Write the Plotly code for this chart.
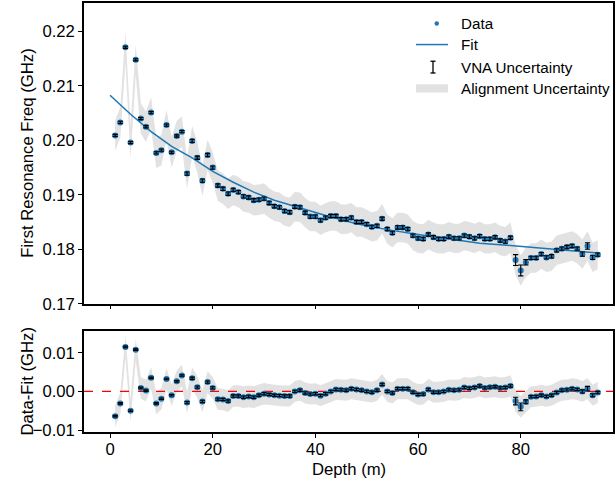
import plotly.graph_objects as go
from plotly.subplots import make_subplots

# ---------------- data ----------------
depth = list(range(1, 96))

freq = [0.2009, 0.2033, 0.2171, 0.1996, 0.2148, 0.2040, 0.2025, 0.2051, 0.1977, 0.1982,
        0.2028, 0.1978, 0.2008, 0.2016, 0.1939, 0.1999, 0.1968, 0.1926, 0.1973, 0.1950,
        0.1917, 0.1911, 0.1902, 0.1909, 0.1905, 0.1897, 0.1895, 0.1890, 0.1891, 0.1893,
        0.1885, 0.1879, 0.1877, 0.1870, 0.1868, 0.1878, 0.1877, 0.1867, 0.1860, 0.1860,
        0.1853, 0.1858, 0.1861, 0.1861, 0.1855, 0.1855, 0.1858, 0.1850, 0.1850, 0.1846,
        0.1841, 0.1843, 0.1856, 0.1837, 0.1830, 0.1840, 0.1840, 0.1837, 0.1825, 0.1820,
        0.1819, 0.1827, 0.1822, 0.1819, 0.1819, 0.1823, 0.1820, 0.1820, 0.1825, 0.1823,
        0.1820, 0.1824, 0.1819, 0.1819, 0.1822, 0.1816, 0.1814, 0.1821, 0.1780, 0.1761,
        0.1776, 0.1784, 0.1784, 0.1791, 0.1785, 0.1787, 0.1798, 0.1801, 0.1804, 0.1806,
        0.1801, 0.1791, 0.1806, 0.1785, 0.1790]

residual = [-0.0064, -0.0031, 0.0115, -0.0050, 0.0108, 0.0009, 0.0002, 0.0035, -0.0031, -0.0019,
            0.0032, -0.0010, 0.0026, 0.0041, -0.0029, 0.0034, 0.0011, -0.0026, 0.0024, 0.0009,
            -0.0020, -0.0021, -0.0025, -0.0012, -0.0012, -0.0015, -0.0013, -0.0015, -0.0010, -0.0006,
            -0.0008, -0.0010, -0.0011, -0.0012, -0.0012, 0.0000, 0.0003, -0.0004, -0.0007, -0.0006,
            -0.0011, -0.0006, 0.0000, 0.0005, 0.0004, 0.0003, 0.0007, 0.0005, 0.0003, 0.0000,
            -0.0002, 0.0003, 0.0018, 0.0000, -0.0004, 0.0007, 0.0007, 0.0007, -0.0002, -0.0008,
            -0.0007, 0.0005, -0.0002, -0.0002, 0.0000, 0.0004, 0.0003, 0.0004, 0.0010, 0.0008,
            0.0010, 0.0014, 0.0009, 0.0011, 0.0012, 0.0009, 0.0010, 0.0014, -0.0025, -0.0040,
            -0.0027, -0.0014, -0.0013, -0.0010, -0.0013, -0.0010, -0.0003, 0.0003, 0.0004, 0.0007,
            0.0005, 0.0000, 0.0007, -0.0010, -0.0003]

vna_unc = [0.0002, 0.0002, 0.0002, 0.0002, 0.0002, 0.0002, 0.0002, 0.0002, 0.0002, 0.0002,
           0.0002, 0.0002, 0.0002, 0.0002, 0.0003, 0.0003, 0.0003, 0.0003, 0.0003, 0.0003,
           0.0003, 0.0003, 0.0003, 0.0003, 0.0003, 0.0003, 0.0003, 0.0003, 0.0003, 0.0003,
           0.0003, 0.0003, 0.0003, 0.0003, 0.0003, 0.0003, 0.0003, 0.0003, 0.0003, 0.0003,
           0.0003, 0.0003, 0.0003, 0.0003, 0.0003, 0.0003, 0.0003, 0.0003, 0.0003, 0.0003,
           0.0003, 0.0003, 0.0003, 0.0003, 0.0003, 0.0003, 0.0003, 0.0003, 0.0003, 0.0003,
           0.0003, 0.0003, 0.0003, 0.0003, 0.0003, 0.0003, 0.0003, 0.0003, 0.0003, 0.0003,
           0.0003, 0.0003, 0.0003, 0.0003, 0.0003, 0.0003, 0.0003, 0.0003, 0.0010, 0.0010,
           0.0005, 0.0003, 0.0003, 0.0003, 0.0003, 0.0003, 0.0003, 0.0003, 0.0003, 0.0003,
           0.0003, 0.0004, 0.0006, 0.0004, 0.0003]

align_unc = [0.0028, 0.0028, 0.0028, 0.0029, 0.0028, 0.0028, 0.0028, 0.0028, 0.0028, 0.0028,
             0.0028, 0.0028, 0.0028, 0.0028, 0.0028, 0.0028, 0.0028, 0.0028, 0.0028, 0.0028,
             0.0028, 0.0028, 0.0028, 0.0028, 0.0028, 0.0028, 0.0028, 0.0028, 0.0028, 0.0028,
             0.0027, 0.0027, 0.0027, 0.0027, 0.0027, 0.0027, 0.0027, 0.0027, 0.0027, 0.0027,
             0.0027, 0.0027, 0.0027, 0.0027, 0.0027, 0.0027, 0.0027, 0.0027, 0.0027, 0.0027,
             0.0027, 0.0027, 0.0027, 0.0027, 0.0027, 0.0027, 0.0027, 0.0027, 0.0027, 0.0027,
             0.0027, 0.0027, 0.0027, 0.0027, 0.0027, 0.0027, 0.0027, 0.0027, 0.0027, 0.0027,
             0.0027, 0.0027, 0.0027, 0.0027, 0.0027, 0.0027, 0.0027, 0.0028, 0.0028, 0.0028,
             0.0027, 0.0027, 0.0027, 0.0027, 0.0027, 0.0027, 0.0027, 0.0027, 0.0027, 0.0027,
             0.0027, 0.0027, 0.0027, 0.0027, 0.0027]

fit_depth = [0, 4, 8, 12, 16, 20, 24, 28, 32, 36, 42, 48, 54, 60, 66, 72, 78, 87, 95]
fit_freq = [0.2083, 0.2048, 0.2016, 0.1989, 0.1968, 0.1943, 0.1923, 0.1905, 0.1890, 0.1879,
            0.1862, 0.1847, 0.1836, 0.1827, 0.1819, 0.1811, 0.1807, 0.1799, 0.1793]

x_ticks = [0, 20, 40, 60, 80]
top_ticks = [0.17, 0.18, 0.19, 0.20, 0.21, 0.22]
bot_ticks = [-0.01, 0.00, 0.01]

# ---------------- styling ----------------
W, H = 616, 489
FONT = "Arial, 'Liberation Sans', sans-serif"
BLUE = "#1f77b4"
BAND = "rgb(226,226,226)"
FS = 16.7
LFS = 15.2

def px(x):
    return x / W

def py(y):
    return 1 - y / H

fig = make_subplots(rows=2, cols=1, shared_xaxes=False)

up = [f + a for f, a in zip(freq, align_unc)]
lo = [f - a for f, a in zip(freq, align_unc)]
rup = [r + a for r, a in zip(residual, align_unc)]
rlo = [r - a for r, a in zip(residual, align_unc)]

ERR = dict(type="data", array=vna_unc, color="black", thickness=1.1, width=2.6)

# top panel
fig.add_trace(go.Scatter(x=depth, y=lo, mode="lines", line=dict(width=0, color=BAND),
                         hoverinfo="skip", showlegend=False), row=1, col=1)
fig.add_trace(go.Scatter(x=depth, y=up, mode="lines", line=dict(width=0, color=BAND),
                         fill="tonexty", fillcolor=BAND, name="Alignment Uncertainty",
                         showlegend=False), row=1, col=1)
fig.add_trace(go.Scatter(x=fit_depth, y=fit_freq, mode="lines", line=dict(color=BLUE, width=1.5),
                         name="Fit", showlegend=False), row=1, col=1)
fig.add_trace(go.Scatter(x=depth, y=freq, mode="markers", marker=dict(color=BLUE, size=6),
                         name="Data", showlegend=False), row=1, col=1)
fig.add_trace(go.Scatter(x=depth, y=freq, mode="markers", marker=dict(size=1, opacity=0),
                         error_y=ERR, name="VNA Uncertainty", showlegend=False), row=1, col=1)

# bottom panel
fig.add_trace(go.Scatter(x=depth, y=rlo, mode="lines", line=dict(width=0, color=BAND),
                         hoverinfo="skip", showlegend=False), row=2, col=1)
fig.add_trace(go.Scatter(x=depth, y=rup, mode="lines", line=dict(width=0, color=BAND),
                         fill="tonexty", fillcolor=BAND, showlegend=False), row=2, col=1)
fig.add_trace(go.Scatter(x=[-5.07, 97.97], y=[0, 0], mode="lines",
                         line=dict(color="red", width=1.3, dash="dash"), showlegend=False), row=2, col=1)
fig.add_trace(go.Scatter(x=depth, y=residual, mode="markers", marker=dict(color=BLUE, size=6),
                         showlegend=False), row=2, col=1)
fig.add_trace(go.Scatter(x=depth, y=residual, mode="markers", marker=dict(size=1, opacity=0),
                         error_y=ERR, showlegend=False), row=2, col=1)

axis_common = dict(showline=True, linecolor="black", linewidth=1.6, mirror=True,
                   ticks="outside", ticklen=4, tickwidth=1.2, tickcolor="black",
                   showgrid=False, zeroline=False,
                   tickfont=dict(family=FONT, size=FS, color="black"))

fig.update_layout(
    width=W, height=H, margin=dict(l=0, r=0, t=0, b=0),
    plot_bgcolor="white", paper_bgcolor="white", showlegend=False,
    xaxis=dict(domain=[px(84), px(613)], range=[-5.07, 97.97], tickvals=x_ticks,
               showticklabels=False, anchor="y", **axis_common),
    yaxis=dict(domain=[py(310), py(2.7)], range=[0.17, 0.2253], tickvals=top_ticks,
               ticktext=["0.17", "0.18", "0.19", "0.20", "0.21", "0.22"], anchor="x", **axis_common),
    xaxis2=dict(domain=[px(84), px(613)], range=[-5.07, 97.97], tickvals=x_ticks,
                ticktext=[str(t) for t in x_ticks], anchor="y2", ticklabelstandoff=-3,
                **axis_common),
    yaxis2=dict(domain=[py(441), py(338)], range=[-0.0105, 0.0156], tickvals=bot_ticks,
                ticktext=["\u22120.01", "0.00", "0.01"], anchor="x2", **axis_common),
)

ann_font = dict(family=FONT, size=FS, color="black")
fig.add_annotation(text="First Resonance Freq (GHz)", xref="paper", yref="paper",
                   x=px(28), y=py(156), textangle=-90, showarrow=False, font=ann_font,
                   xanchor="center", yanchor="middle")
fig.add_annotation(text="Data-Fit (GHz)", xref="paper", yref="paper",
                   x=px(28), y=py(389.5), textangle=-90, showarrow=False, font=ann_font,
                   xanchor="center", yanchor="middle")
fig.add_annotation(text="Depth (m)", xref="paper", yref="paper",
                   x=px(348.5), y=py(479.5), showarrow=False, font=ann_font,
                   xanchor="center", yanchor="middle", borderpad=0)

# manual legend
leg_font = dict(family=FONT, size=LFS, color="black")
labels = ["Data", "Fit", "VNA Uncertainty", "Alignment Uncertainty"]
rows_y = [23.5, 45.5, 68.5, 90.5]
for lab, yy in zip(labels, rows_y):
    fig.add_annotation(text=lab, xref="paper", yref="paper", x=px(459), y=py(yy),
                       showarrow=False, font=leg_font, xanchor="left", yanchor="middle")
# Data marker
fig.add_shape(type="circle", xref="paper", yref="paper", x0=px(434.5), x1=px(439),
              y0=py(26.3), y1=py(21.8), fillcolor=BLUE, line=dict(width=0))
# Fit line
fig.add_shape(type="line", xref="paper", yref="paper", x0=px(416), x1=px(448),
              y0=py(45.5), y1=py(45.5), line=dict(color=BLUE, width=1.5))
# VNA errorbar symbol
fig.add_shape(type="line", xref="paper", yref="paper", x0=px(433), x1=px(433),
              y0=py(62.5), y1=py(74.5), line=dict(color="black", width=1.3))
fig.add_shape(type="line", xref="paper", yref="paper", x0=px(430.5), x1=px(435.5),
              y0=py(62.5), y1=py(62.5), line=dict(color="black", width=1.3))
fig.add_shape(type="line", xref="paper", yref="paper", x0=px(430.5), x1=px(435.5),
              y0=py(74.5), y1=py(74.5), line=dict(color="black", width=1.3))
# Alignment patch
fig.add_shape(type="rect", xref="paper", yref="paper", x0=px(416), x1=px(448),
              y0=py(94.5), y1=py(86), fillcolor=BAND, line=dict(width=0))

fig.write_html("out.html")
